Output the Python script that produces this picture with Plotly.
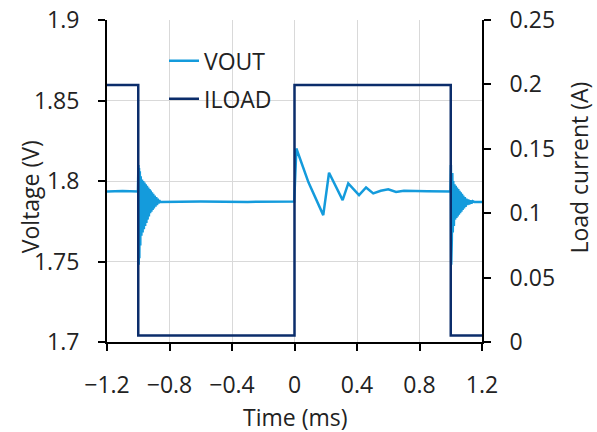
import plotly.graph_objects as go

# ---- data ----
vout_t = [-1.2, -1.1, -1.002,
          -0.999, -0.997, -0.995, -0.993, -0.990, -0.987, -0.984, -0.980, -0.976,
          -0.972, -0.968, -0.964, -0.960, -0.956, -0.952, -0.948, -0.944, -0.940,
          -0.936, -0.932, -0.928, -0.924, -0.920, -0.916, -0.912, -0.908, -0.904,
          -0.900, -0.895, -0.890, -0.885, -0.880, -0.875, -0.870, -0.865, -0.860,
          -0.6, -0.3, -0.002,
          0.012, 0.09, 0.184, 0.221, 0.308, 0.344, 0.413, 0.458, 0.504, 0.552,
          0.60, 0.65, 0.70, 0.85, 0.998,
          1.001, 1.003, 1.005, 1.007, 1.010, 1.013, 1.016, 1.020, 1.024, 1.028,
          1.032, 1.036, 1.040, 1.044, 1.048, 1.052, 1.056, 1.060, 1.064, 1.068,
          1.072, 1.076, 1.080, 1.085, 1.090, 1.095, 1.100, 1.106, 1.112, 1.118,
          1.125, 1.132, 1.140, 1.150, 1.2]
vout_v = [1.7935, 1.7938, 1.7935,
          1.810, 1.748, 1.808, 1.752, 1.806, 1.760, 1.803, 1.766, 1.801,
          1.768, 1.800, 1.770, 1.799, 1.772, 1.798, 1.774, 1.797, 1.776,
          1.796, 1.778, 1.795, 1.780, 1.794, 1.781, 1.793, 1.782, 1.792,
          1.783, 1.791, 1.784, 1.790, 1.785, 1.789, 1.786, 1.788, 1.787,
          1.7873, 1.7870, 1.7873,
          1.8202, 1.7990, 1.7788, 1.8051, 1.7881, 1.7985, 1.7912, 1.7960, 1.7923, 1.7939,
          1.7948, 1.7932, 1.7940, 1.7937, 1.7935,
          1.810, 1.748, 1.808, 1.764, 1.805, 1.768, 1.800, 1.772, 1.798, 1.776,
          1.797, 1.777, 1.796, 1.778, 1.795, 1.779, 1.794, 1.780, 1.793, 1.781,
          1.792, 1.782, 1.791, 1.783, 1.790, 1.784, 1.789, 1.785, 1.7885, 1.7855,
          1.788, 1.786, 1.7875, 1.787, 1.787]

iload_t = [-1.2, -1.0, -1.0, 0.0, 0.0, 1.0, 1.0, 1.2]
iload_a = [0.1995, 0.1995, 0.005, 0.005, 0.1995, 0.1995, 0.005, 0.005]

x_ticks = [-1.2, -0.8, -0.4, 0, 0.4, 0.8, 1.2]
x_labels = ["\u22121.2", "\u22120.8", "\u22120.4", "0", "0.4", "0.8", "1.2"]
y_ticks = [1.7, 1.75, 1.8, 1.85, 1.9]
y_labels = ["1.7", "1.75", "1.8", "1.85", "1.9"]
y2_ticks = [0, 0.05, 0.1, 0.15, 0.2, 0.25]
y2_labels = ["0", "0.05", "0.1", "0.15", "0.2", "0.25"]

FONT = "Open Sans"
TXT = "#222222"
FS = 23

fig = go.Figure()
fig.add_trace(go.Scatter(x=vout_t, y=vout_v, mode="lines", name="VOUT",
                         legendgroup="a",
                         line=dict(color="#149bdc", width=2.5), yaxis="y"))
fig.add_trace(go.Scatter(x=iload_t, y=iload_a, mode="lines", name="ILOAD",
                         legendgroup="b",
                         line=dict(color="#0b2d6b", width=2.5), yaxis="y2"))

axis_common = dict(showline=True, linecolor="black", linewidth=2,
                   ticks="outside", ticklen=7, tickwidth=2, tickcolor="black",
                   tickfont=dict(family=FONT, size=FS, color=TXT),
                   zeroline=False, mirror=False, automargin=False)

fig.update_layout(
    width=597, height=432,
    margin=dict(l=107, r=115, t=20, b=90),
    paper_bgcolor="white", plot_bgcolor="white",
    font=dict(family=FONT, size=FS, color=TXT),
    showlegend=True,
    legend=dict(x=0.152, y=0.94, xanchor="left", yanchor="top",
                tracegroupgap=5,
                bgcolor="rgba(0,0,0,0)", font=dict(family=FONT, size=FS, color=TXT)),
    xaxis=dict(range=[-1.2, 1.2], tickvals=x_ticks, ticktext=x_labels,
               showgrid=True, gridcolor="#d9d9d9", gridwidth=1,
               ticklabelstandoff=14, **axis_common),
    yaxis=dict(range=[1.7, 1.9], tickvals=y_ticks, ticktext=y_labels,
               showgrid=True, gridcolor="#d9d9d9", gridwidth=1,
               ticklabelstandoff=14, **axis_common),
    yaxis2=dict(range=[0, 0.25], tickvals=y2_ticks, ticktext=y2_labels,
                overlaying="y", side="right", showgrid=False,
                ticklabelstandoff=14, **axis_common),
    annotations=[
        dict(text="Time (ms)", xref="paper", yref="paper", x=0.5, y=-0.233,
             xanchor="center", yanchor="middle", showarrow=False,
             font=dict(family=FONT, size=FS, color=TXT)),
        dict(text="Voltage (V)", xref="paper", yref="paper", x=-0.205, y=0.45,
             xanchor="center", yanchor="middle", showarrow=False, textangle=-90,
             font=dict(family=FONT, size=FS, color=TXT)),
        dict(text="Load current (A)", xref="paper", yref="paper", x=1.26, y=0.54,
             xanchor="center", yanchor="middle", showarrow=False, textangle=-90,
             font=dict(family=FONT, size=FS, color=TXT)),
    ],
)

fig.write_html("out.html", config={"displayModeBar": False},
               post_script="document.body.style.margin='0';document.body.style.padding='0';")
